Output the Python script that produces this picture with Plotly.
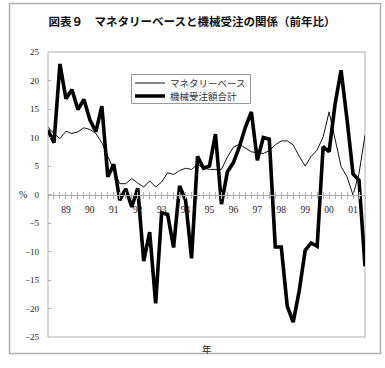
import plotly.graph_objects as go

# Quarterly categories: 1988Q2 .. 2001Q3
quarters = []
for yr in range(1988, 2002):
    for q in range(1, 5):
        quarters.append(f"{yr}Q{q}")
quarters = quarters[quarters.index("1988Q2"):quarters.index("2001Q3") + 1]

year_labels = ["89", "90", "91", "92", "93", "94", "95", "96", "97", "98", "99", "00", "01"]
year_label_quarters = [f"{1989 + k}Q1" for k in range(len(year_labels))]

monetary_base = [11.8, 10.7, 9.8, 11.1, 10.7, 11.0, 11.7, 11.4, 10.7, 9.1,
                 6.7, 4.3, 1.9, 1.9, 2.8, 2.0, 1.3, 2.4, 1.3, 2.2,
                 3.8, 3.5, 4.2, 4.6, 4.4, 5.3, 4.6, 4.4, 4.4, 4.4,
                 6.6, 8.3, 8.8, 8.1, 7.5, 7.3, 7.2, 7.7, 8.7, 9.4,
                 9.4, 8.7, 6.7, 5.0, 6.7, 7.8, 10.1, 14.5, 9.5, 4.9,
                 3.1, -0.1, 3.7, 10.4]

machine_orders = [11.3, 9.1, 22.9, 16.8, 18.4, 14.9, 16.7, 13.1, 11.0, 15.5,
                  3.1, 5.3, -1.0, 1.0, -2.2, 1.1, -11.7, -6.6, -19.1, -3.2,
                  -3.5, -9.3, 1.5, -1.0, -11.2, 6.7, 4.6, 5.0, 10.6, -1.7,
                  4.0, 5.6, 8.4, 11.8, 14.5, 6.0, 10.0, 9.7, -9.2, -9.2,
                  -19.6, -22.4, -16.9, -9.8, -8.5, -9.1, 8.4, 7.5, 15.9, 21.8,
                  13.1, 3.6, 2.5, -12.6]

series_names = ["マネタリーベース", "機械受注額合計"]
title_text = "図表９　マネタリーベースと機械受注の関係（前年比）"

y_ticks = [25, 20, 15, 10, 5, 0, -5, -10, -15, -20, -25]

W, H = 385, 368
L, R, T, B = 48, 20, 52, 31
pw, ph = W - L - R, H - T - B

def px_x(p):
    return (p - L) / pw

def px_y(p):
    return (H - B - p) / ph

grey = "#b0b0b0"
serif = "Liberation Serif, DejaVu Serif, serif"
cjk = "Noto Sans CJK JP, sans-serif"

fig = go.Figure()
fig.add_trace(go.Scatter(x=quarters, y=monetary_base, mode="lines", name=series_names[0],
                         line=dict(color="#111111", width=1), legend="legend"))
fig.add_trace(go.Scatter(x=quarters, y=machine_orders, mode="lines", name=series_names[1],
                         line=dict(color="#000000", width=3.6), legend="legend2"))
# invisible trace to host the label axis
fig.add_trace(go.Scatter(x=[0], y=[0], xaxis="x2", mode="markers", opacity=0,
                         showlegend=False, hoverinfo="skip"))

n = len(quarters)
label_pos = [quarters.index(q) for q in year_label_quarters]

legend_common = dict(xanchor="left", yanchor="middle", borderwidth=0,
                     bgcolor="rgba(0,0,0,0)",
                     font=dict(family=cjk, size=9.5, color="#333333"),
                     tracegroupgap=0, itemwidth=30)

fig.update_layout(
    width=W, height=H,
    margin=dict(l=L, r=R, t=T, b=B),
    paper_bgcolor="white", plot_bgcolor="white",
    title=dict(text=title_text, x=192 / W, xref="container", xanchor="center",
               y=1 - 22 / H, yref="container", yanchor="middle",
               font=dict(family=cjk, size=11.5, color="#111111", weight="bold")),
    xaxis=dict(type="category", range=[0, n - 1], anchor="free", position=0.5,
               showline=True, linecolor=grey, linewidth=1,
               tickmode="linear", tick0=0, dtick=1, ticks="outside", ticklen=3,
               tickcolor=grey, showticklabels=False, showgrid=False, zeroline=False),
    xaxis2=dict(type="linear", range=[0, n - 1], overlaying="x", anchor="free", position=0.5,
                showline=False, tickmode="array", tickvals=label_pos, ticktext=year_labels,
                ticks="inside", ticklen=3, tickcolor=grey,
                minor=dict(ticks="inside", ticklen=3, tickcolor=grey, tickmode="linear", tick0=0, dtick=1),
                tickfont=dict(family=serif, size=9.5, color="#222222"),
                ticklabelstandoff=8, showgrid=False, zeroline=False),
    yaxis=dict(range=[-25, 25], tickmode="array", tickvals=y_ticks, ticks="inside", ticklen=3,
               tickcolor=grey, showline=False, showgrid=False, zeroline=False,
               tickfont=dict(family=serif, size=9, color="#222222"), ticklabelstandoff=8),
    legend=dict(x=px_x(130), y=px_y(83), **legend_common),
    legend2=dict(x=px_x(130), y=px_y(96), **legend_common),
    showlegend=True,
    hovermode=False,
)

# plot area border, legend frame and outer frame
fig.add_shape(type="rect", xref="paper", yref="paper", x0=0, x1=1, y0=0, y1=1,
              line=dict(color=grey, width=1), layer="below")
fig.add_shape(type="rect", xref="paper", yref="paper",
              x0=px_x(131.5), x1=px_x(250.5), y0=px_y(103.5), y1=px_y(74.5),
              line=dict(color="#999999", width=1), fillcolor="white", layer="below")
fig.add_shape(type="rect", xref="paper", yref="paper",
              x0=px_x(9.5), x1=px_x(380.5), y0=px_y(353.5), y1=px_y(3.5),
              line=dict(color=grey, width=1.5), layer="below")

fig.add_annotation(text="%", xref="paper", yref="paper", x=px_x(17), y=0.5,
                   showarrow=False, font=dict(family=serif, size=10, color="#222222"))
fig.add_annotation(text="年", xref="paper", yref="paper", x=px_x(207), y=px_y(349),
                   yanchor="middle", showarrow=False,
                   font=dict(family=cjk, size=9.5, color="#222222"))

fig.write_html("out.html", config={"displayModeBar": False},
               post_script="document.body.style.margin='0';")
